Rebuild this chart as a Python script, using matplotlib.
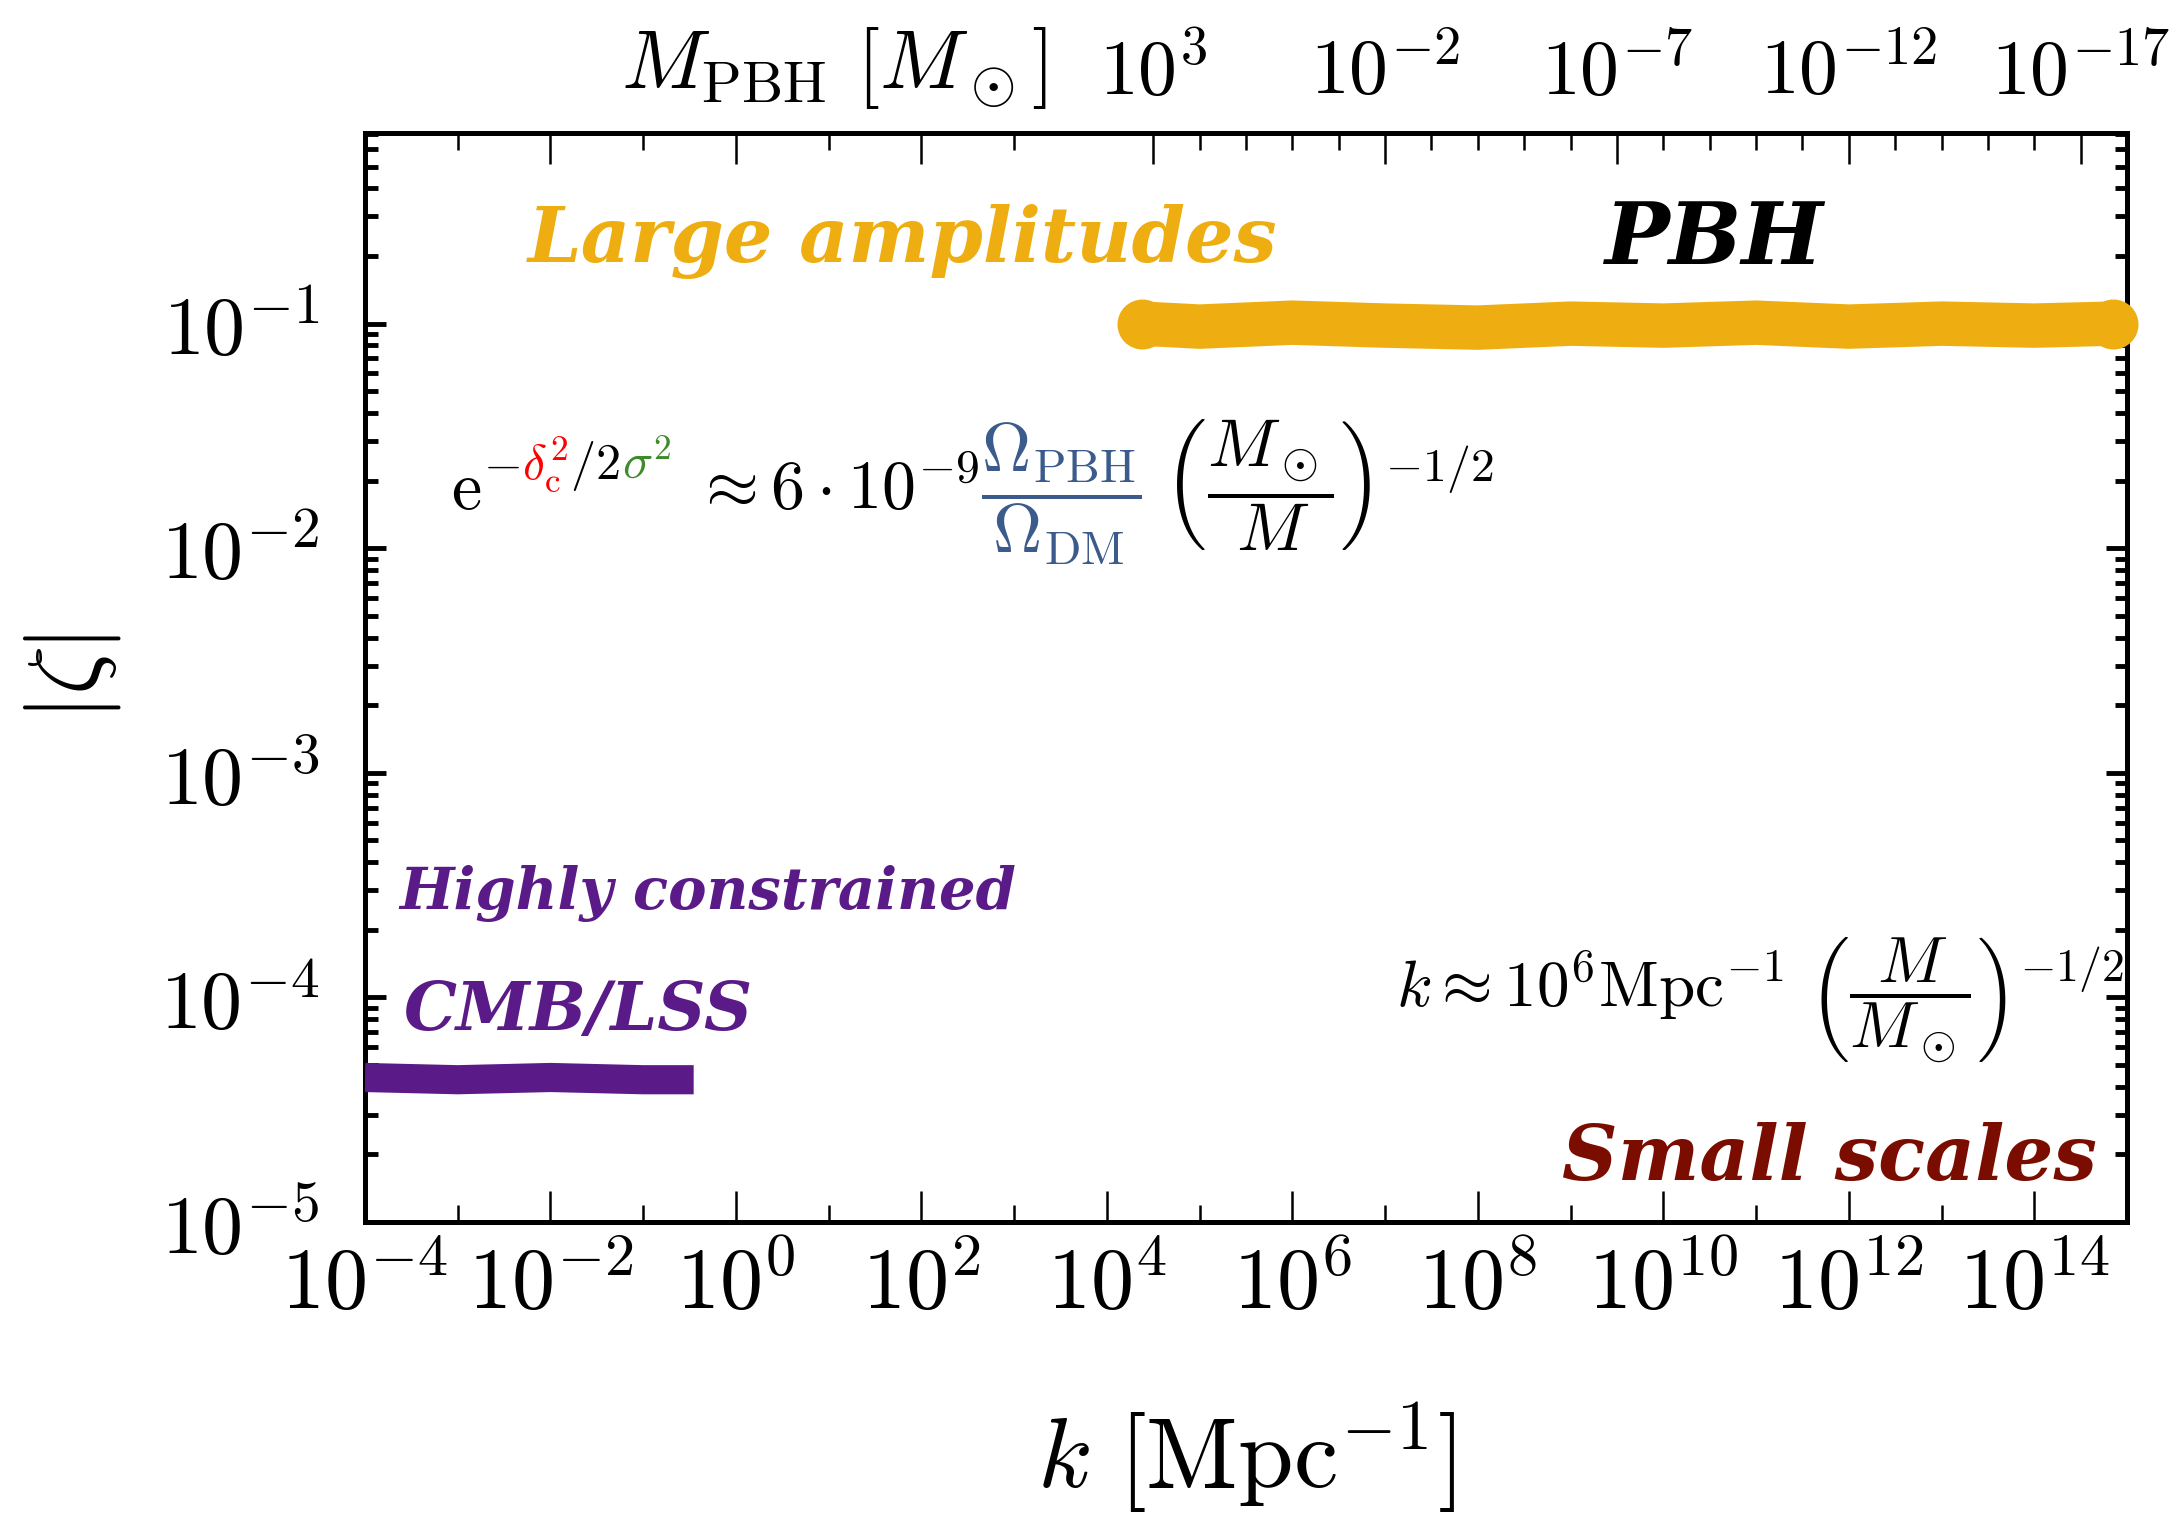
import matplotlib
matplotlib.use("Agg")
import matplotlib.pyplot as plt
from matplotlib.transforms import IdentityTransform

plt.rcParams['mathtext.fontset'] = 'cm'
plt.rcParams['font.family'] = 'serif'
plt.rcParams['font.serif'] = ['DejaVu Serif']

# PBH band (large amplitudes at small scales)
k_pbh = [2.4e4, 1e5, 1e6, 1e7, 1e8, 1e9, 1e10, 1e11, 1e12, 1e13, 1e14, 7e14]
zeta_pbh = [0.100, 0.097, 0.101, 0.098, 0.096, 0.100, 0.098, 0.101, 0.097, 0.100, 0.098, 0.100]

# CMB / LSS constraint band
k_cmb = [1e-4, 1e-3, 1e-2, 1e-1, 0.35]
zeta_cmb = [4.4e-5, 4.3e-5, 4.4e-5, 4.3e-5, 4.3e-5]

# axis ticks
k_major = [1e-4, 1e-2, 1e0, 1e2, 1e4, 1e6, 1e8, 1e10, 1e12, 1e14]
k_major_labels = [r'$10^{-4}$', r'$10^{-2}$', r'$10^{0}$', r'$10^{2}$', r'$10^{4}$',
                  r'$10^{6}$', r'$10^{8}$', r'$10^{10}$', r'$10^{12}$', r'$10^{14}$']
k_minor = [1e-3, 1e-1, 1e1, 1e3, 1e5, 1e7, 1e9, 1e11, 1e13]
k_top_major = [1e-2, 1e0, 1e2]
k_top_minor = [1e-3, 1e-1, 1e1, 1e3]
zeta_major = [1e-5, 1e-4, 1e-3, 1e-2, 1e-1]
zeta_labels = [r'$10^{-5}$', r'$10^{-4}$', r'$10^{-3}$', r'$10^{-2}$', r'$10^{-1}$']
m_major = [1e3, 1e-2, 1e-7, 1e-12, 1e-17]
m_labels = [r'$10^{3}$', r'$10^{-2}$', r'$10^{-7}$', r'$10^{-12}$', r'$10^{-17}$']
m_minor = [10.0 ** e for e in range(2, -17, -1) if e not in (-2, -7, -12)]

ORANGE = '#eeae12'
PURPLE = '#5a1a87'
DARKRED = '#7a0c00'
BLUE = '#3b5b8c'
GREEN = '#3d8b2a'


def k2m(k):
    return (k / 1e6) ** -2


def m2k(m):
    return 1e6 * m ** -0.5


W, H = 2178, 1516
fig = plt.figure(figsize=(W / 100, H / 100), dpi=100)
ax = fig.add_axes([365 / W, 1 - 1222 / H, 1762 / W, 1089 / H])
ax.set_xscale('log')
ax.set_yscale('log')
ax.set_xlim(1e-4, 1e15)
ax.set_ylim(1e-5, 0.706)

ax.plot(k_cmb, zeta_cmb, color=PURPLE, lw=21, solid_capstyle='butt', zorder=3)
ax.plot(k_pbh, zeta_pbh, color=ORANGE, lw=32, solid_capstyle='round', clip_on=False, zorder=3)
ax.plot([k_pbh[0], k_pbh[-1]], [zeta_pbh[0], zeta_pbh[-1]], 'o', color=ORANGE, ms=36,
        mew=0, clip_on=False, zorder=3)

for sp in ax.spines.values():
    sp.set_linewidth(3.6)

ax.set_xticks(k_major, k_major_labels)
ax.set_xticks(k_minor, minor=True)
ax.xaxis.set_minor_formatter(plt.NullFormatter())
ax.set_yticks(zeta_major, zeta_labels)
ax.yaxis.set_minor_formatter(plt.NullFormatter())
ax.tick_params(axis='x', which='both', direction='in', top=False, labelsize=62, pad=16)
ax.tick_params(axis='x', which='major', length=22, width=1.8)
ax.tick_params(axis='x', which='minor', length=12, width=1.8)
ax.tick_params(axis='y', which='both', direction='in', left=True, right=True, labelsize=59, pad=33)
ax.tick_params(axis='y', which='major', length=15, width=3.5)
ax.tick_params(axis='y', which='minor', length=9, width=3.5)

# top: plain k ticks on the left part, PBH mass scale on the right part
top_k = ax.secondary_xaxis('top')
top_k.set_xticks(k_top_major, ['' for _ in k_top_major])
top_k.set_xticks(k_top_minor, minor=True)
top_k.xaxis.set_minor_formatter(plt.NullFormatter())
top_k.tick_params(which='both', direction='in', width=1.8)
top_k.tick_params(which='major', length=22)
top_k.tick_params(which='minor', length=12)
top_k.spines['top'].set_linewidth(3.6)

top_m = ax.secondary_xaxis('top', functions=(k2m, m2k))
top_m.set_xticks(m_major, m_labels)
top_m.set_xticks(m_minor, minor=True)
top_m.xaxis.set_minor_formatter(plt.NullFormatter())
top_m.tick_params(which='both', direction='in', width=1.8, labelsize=56, pad=16)
top_m.tick_params(which='major', length=22)
top_m.tick_params(which='minor', length=12)
top_m.spines['top'].set_linewidth(3.6)

fig.text(834 / W, 1 - 68 / H, r'$M_\mathrm{PBH}\ [M_\odot]$', fontsize=60, ha='center', va='center')

ax.set_xlabel(r'$k\ [\mathrm{Mpc}^{-1}]$', fontsize=72)
ax.xaxis.set_label_coords(0.5, -0.217)
ax.xaxis.label.set_va('center')
ax.set_ylabel(r'$|\zeta|$', fontsize=70)
ax.yaxis.set_label_coords(-0.166, 0.5)
ax.yaxis.label.set_va('center')

lab = dict(fontfamily='DejaVu Serif', fontstyle='italic', fontweight='bold', va='baseline',
           transform=ax.transAxes)
ax.text(0.0925, 0.882, 'Large amplitudes', color=ORANGE, fontsize=55, **lab)
ax.text(0.703, 0.880, 'PBH', color='black', fontsize=62, **lab)
ax.text(0.0193, 0.287, 'Highly constrained', color=PURPLE, fontsize=41.5, **lab)
ax.text(0.0216, 0.176, 'CMB/LSS', color=PURPLE, fontsize=48, **lab)
ax.text(0.983, 0.0386, 'Small scales', color=DARKRED, fontsize=55.5, ha='right', **lab)

# k - M relation
ax.text(0.585, 0.197, r'$k \approx 10^6\mathrm{Mpc}^{-1}\ \left(\dfrac{M}{M_\odot}\right)^{-1/2}$',
        fontsize=47, va='baseline', transform=ax.transAxes)

# abundance relation, written piece by piece for the coloured parts
S = 49
s = 0.74 * S
up = 30
pieces = [
    (r'$\mathrm{e}$', 'black', S, 0),
    (r'$-$', 'black', s, up),
    (r'$\delta_\mathrm{c}^2$', 'red', s, up),
    (r'$/2$', 'black', s, up),
    (r'$\sigma^2$', GREEN, s, up),
    (r'$\ \approx 6\cdot 10^{-9}$', 'black', S, 0),
    (r'$\dfrac{\Omega_\mathrm{PBH}}{\Omega_\mathrm{DM}}$', BLUE, S, 0),
    (r'$\ \left(\dfrac{M_\odot}{M}\right)^{-1/2}$', 'black', S, 0),
]
renderer = fig.canvas.get_renderer()
x0, y0 = ax.transAxes.transform((0.0488, 0.655))
for txt, col, size, dy in pieces:
    t = fig.text(x0, y0 + dy, txt, color=col, fontsize=size, va='baseline',
                 transform=IdentityTransform())
    x0 += t.get_window_extent(renderer).width + 2

fig.savefig('out.png', dpi=100)
